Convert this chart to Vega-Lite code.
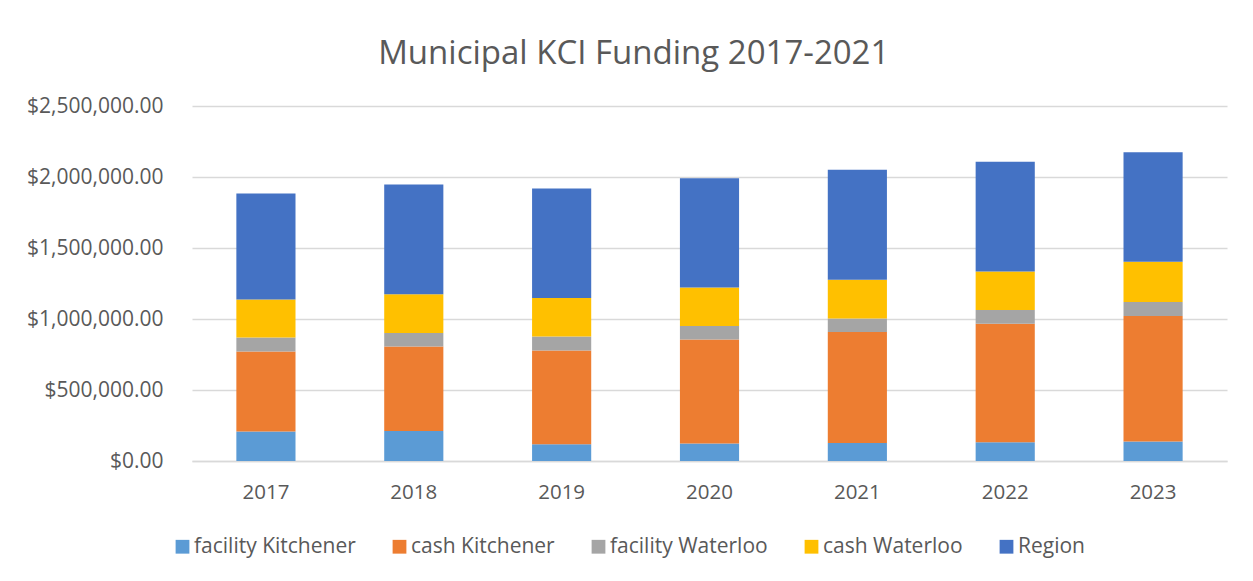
{
  "$schema": "https://vega.github.io/schema/vega-lite/v6.json",
  "autosize": {"type": "none"},
  "width": 1035,
  "height": 355,
  "padding": {"left": 192, "top": 106, "right": 26, "bottom": 120},
  "background": "white",
  "title": {
    "text": "Municipal KCI Funding 2017-2021",
    "font": "Open Sans",
    "fontSize": 33,
    "fontWeight": "normal",
    "color": "#595959",
    "anchor": "middle",
    "frame": "bounds",
    "offset": 24,
    "dx": 7
  },
  "data": {
    "values": [
      {"year": "2017", "series": "facility Kitchener", "seriesNo": 1, "amount": 208000},
      {"year": "2017", "series": "cash Kitchener", "seriesNo": 2, "amount": 563000},
      {"year": "2017", "series": "facility Waterloo", "seriesNo": 3, "amount": 99000},
      {"year": "2017", "series": "cash Waterloo", "seriesNo": 4, "amount": 267000},
      {"year": "2017", "series": "Region", "seriesNo": 5, "amount": 747000},
      {"year": "2018", "series": "facility Kitchener", "seriesNo": 1, "amount": 212000},
      {"year": "2018", "series": "cash Kitchener", "seriesNo": 2, "amount": 594000},
      {"year": "2018", "series": "facility Waterloo", "seriesNo": 3, "amount": 95000},
      {"year": "2018", "series": "cash Waterloo", "seriesNo": 4, "amount": 273000},
      {"year": "2018", "series": "Region", "seriesNo": 5, "amount": 774000},
      {"year": "2019", "series": "facility Kitchener", "seriesNo": 1, "amount": 118000},
      {"year": "2019", "series": "cash Kitchener", "seriesNo": 2, "amount": 660000},
      {"year": "2019", "series": "facility Waterloo", "seriesNo": 3, "amount": 99000},
      {"year": "2019", "series": "cash Waterloo", "seriesNo": 4, "amount": 271000},
      {"year": "2019", "series": "Region", "seriesNo": 5, "amount": 771000},
      {"year": "2020", "series": "facility Kitchener", "seriesNo": 1, "amount": 123000},
      {"year": "2020", "series": "cash Kitchener", "seriesNo": 2, "amount": 733000},
      {"year": "2020", "series": "facility Waterloo", "seriesNo": 3, "amount": 94000},
      {"year": "2020", "series": "cash Waterloo", "seriesNo": 4, "amount": 271000},
      {"year": "2020", "series": "Region", "seriesNo": 5, "amount": 771000},
      {"year": "2021", "series": "facility Kitchener", "seriesNo": 1, "amount": 127000},
      {"year": "2021", "series": "cash Kitchener", "seriesNo": 2, "amount": 781000},
      {"year": "2021", "series": "facility Waterloo", "seriesNo": 3, "amount": 96000},
      {"year": "2021", "series": "cash Waterloo", "seriesNo": 4, "amount": 272000},
      {"year": "2021", "series": "Region", "seriesNo": 5, "amount": 775000},
      {"year": "2022", "series": "facility Kitchener", "seriesNo": 1, "amount": 132000},
      {"year": "2022", "series": "cash Kitchener", "seriesNo": 2, "amount": 835000},
      {"year": "2022", "series": "facility Waterloo", "seriesNo": 3, "amount": 97000},
      {"year": "2022", "series": "cash Waterloo", "seriesNo": 4, "amount": 271000},
      {"year": "2022", "series": "Region", "seriesNo": 5, "amount": 772000},
      {"year": "2023", "series": "facility Kitchener", "seriesNo": 1, "amount": 137000},
      {"year": "2023", "series": "cash Kitchener", "seriesNo": 2, "amount": 884000},
      {"year": "2023", "series": "facility Waterloo", "seriesNo": 3, "amount": 99000},
      {"year": "2023", "series": "cash Waterloo", "seriesNo": 4, "amount": 283000},
      {"year": "2023", "series": "Region", "seriesNo": 5, "amount": 771000}
    ]
  },
  "mark": {"type": "bar"},
  "encoding": {
    "x": {
      "field": "year",
      "type": "ordinal",
      "scale": {"paddingInner": 0.6, "paddingOuter": 0.3},
      "axis": {
        "title": null,
        "labelAngle": 0,
        "ticks": false,
        "domainColor": "#D9D9D9",
        "domainWidth": 1.5,
        "labelFont": "Open Sans",
        "labelFontSize": 20.5,
        "labelColor": "#595959",
        "labelPadding": 21
      }
    },
    "y": {
      "field": "amount",
      "type": "quantitative",
      "stack": "zero",
      "scale": {"domain": [0, 2500000], "nice": false},
      "axis": {
        "title": null,
        "values": [0, 500000, 1000000, 1500000, 2000000, 2500000],
        "format": "$,.2f",
        "domain": false,
        "ticks": false,
        "gridColor": "#D9D9D9",
        "gridWidth": 1.5,
        "labelFont": "Open Sans",
        "labelFontSize": 21,
        "labelColor": "#595959",
        "labelPadding": 29
      }
    },
    "order": {"field": "seriesNo", "type": "quantitative", "sort": "ascending"},
    "color": {
      "field": "series",
      "type": "nominal",
      "sort": ["facility Kitchener", "cash Kitchener", "facility Waterloo", "cash Waterloo", "Region"],
      "scale": {
        "domain": ["facility Kitchener", "cash Kitchener", "facility Waterloo", "cash Waterloo", "Region"],
        "range": ["#5B9BD5", "#ED7D31", "#A5A5A5", "#FFC000", "#4472C4"]
      },
      "legend": {
        "title": null,
        "orient": "none",
        "direction": "horizontal",
        "legendX": -20,
        "legendY": 430,
        "symbolType": "square",
        "symbolSize": 190,
        "symbolStrokeWidth": 0,
        "symbolOpacity": 1,
        "labelFont": "Open Sans",
        "labelFontSize": 21,
        "labelColor": "#595959",
        "labelOffset": 1,
        "columnPadding": 33,
        "labelLimit": 400
      }
    }
  },
  "config": {
    "view": {"stroke": null}
  }
}
